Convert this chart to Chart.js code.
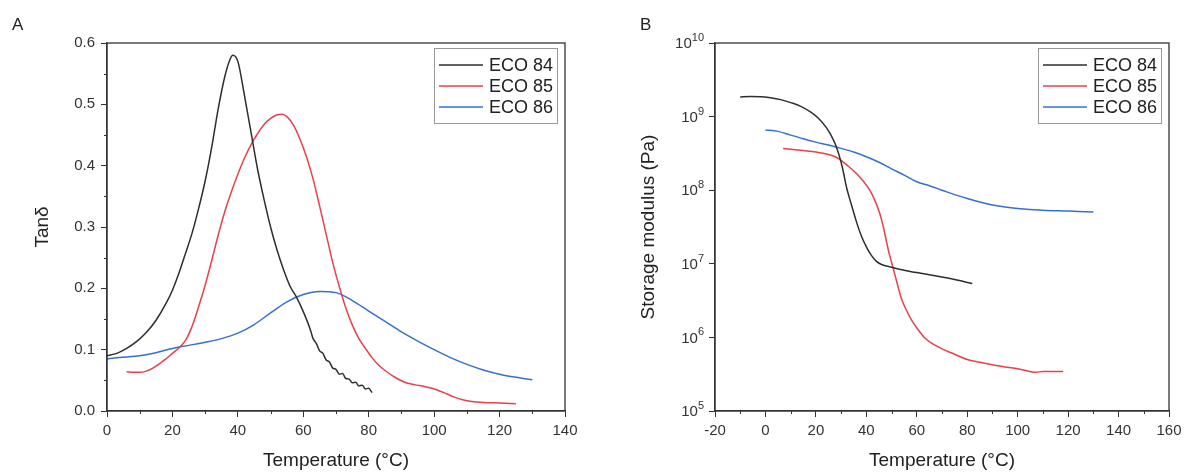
<!DOCTYPE html>
<html>
<head>
<meta charset="utf-8">
<script src="https://cdn.jsdelivr.net/npm/chart.js@4.4.0/dist/chart.umd.min.js"></script>
<style>
  body { margin: 0; background: #fff; }
  #wrap { position: relative; width: 1189px; height: 473px; }
  .panel { position: absolute; top: 0; height: 473px; }
</style>
</head>
<body>
<div id="wrap">
  <div class="panel" style="left:0;width:595px"><canvas id="chartA" width="595" height="473"></canvas></div>
  <div class="panel" style="left:595px;width:594px"><canvas id="chartB" width="594" height="473"></canvas></div>
</div>
<script>
// ---- data: panel A (tan delta) ----
const seriesNames = ['ECO 84', 'ECO 85', 'ECO 86'];
const seriesColors = ['#2e2e2e', '#e8404c', '#3470cf'];

const tempA84 = [0, 3, 6, 9, 12, 15, 18, 20, 22, 24, 26, 28, 30, 32, 34, 36, 37.5, 38.5, 40, 42, 44, 46, 48, 50, 52, 54, 56, 58, 60, 62, 63, 64, 65, 66, 67, 68, 69, 70, 71, 72, 73, 74, 75, 76, 77, 78, 79, 80, 81];
const tanA84 = [0.090, 0.094, 0.102, 0.113, 0.128, 0.148, 0.175, 0.197, 0.225, 0.257, 0.290, 0.330, 0.375, 0.430, 0.493, 0.545, 0.572, 0.580, 0.570, 0.515, 0.455, 0.395, 0.345, 0.300, 0.262, 0.230, 0.203, 0.185, 0.162, 0.135, 0.118, 0.110, 0.098, 0.094, 0.083, 0.080, 0.070, 0.068, 0.060, 0.061, 0.053, 0.052, 0.046, 0.047, 0.041, 0.042, 0.036, 0.037, 0.030];

const tempA85 = [6, 8, 10, 12, 14, 16, 18, 20, 22, 24, 26, 28, 30, 32, 34, 36, 38, 40, 42, 44, 46, 48, 50, 52, 53.5, 55, 57, 59, 61, 63, 65, 67, 69, 71, 73, 75, 77, 79, 81, 83, 85, 88, 91, 94, 97, 100, 103, 106, 109, 112, 115, 120, 125];
const tanA85 = [0.064, 0.063, 0.063, 0.065, 0.070, 0.077, 0.085, 0.094, 0.103, 0.115, 0.138, 0.170, 0.205, 0.245, 0.287, 0.325, 0.357, 0.386, 0.412, 0.434, 0.452, 0.467, 0.477, 0.483, 0.484, 0.480, 0.466, 0.443, 0.414, 0.378, 0.334, 0.288, 0.242, 0.203, 0.168, 0.140, 0.118, 0.102, 0.087, 0.075, 0.066, 0.055, 0.047, 0.043, 0.040, 0.036, 0.030, 0.023, 0.018, 0.015, 0.014, 0.013, 0.012];

const tempA86 = [0, 3, 6, 10, 15, 20, 25, 30, 35, 40, 45, 50, 55, 60, 65, 70, 75, 80, 85, 90, 95, 100, 105, 110, 115, 120, 125, 130];
const tanA86 = [0.085, 0.087, 0.088, 0.090, 0.095, 0.102, 0.107, 0.112, 0.118, 0.127, 0.141, 0.160, 0.178, 0.190, 0.195, 0.193, 0.180, 0.163, 0.146, 0.129, 0.114, 0.100, 0.087, 0.076, 0.067, 0.060, 0.055, 0.051];

// ---- data: panel B (storage modulus, Pa) ----
const tempB84 = [-10, -6, -2, 2, 6, 10, 14, 18, 21, 24, 26, 28, 30, 31, 32, 33, 34, 36, 38, 40, 42, 44, 46, 50, 55, 60, 65, 70, 75, 82];
const modB84 = [1.85e9, 1.87e9, 1.86e9, 1.8e9, 1.7e9, 1.55e9, 1.38e9, 1.15e9, 9.5e8, 7.2e8, 5.6e8, 4.0e8, 2.4e8, 1.7e8, 1.15e8, 8.5e7, 6.5e7, 3.8e7, 2.4e7, 1.7e7, 1.3e7, 1.08e7, 9.8e6, 9.0e6, 8.2e6, 7.6e6, 7.1e6, 6.6e6, 6.1e6, 5.4e6];

const tempB85 = [7, 10, 15, 20, 25, 28, 30, 33, 36, 39, 41, 43, 45, 46, 47, 48, 49, 50, 51, 52, 54, 56, 58, 60, 63, 66, 70, 75, 80, 85, 90, 95, 100, 104, 107, 110, 114, 118];
const modB85 = [3.7e8, 3.6e8, 3.45e8, 3.3e8, 3.05e8, 2.8e8, 2.55e8, 2.1e8, 1.7e8, 1.3e8, 1.05e8, 7.8e7, 5.2e7, 4.0e7, 2.9e7, 2.0e7, 1.4e7, 1.05e7, 7.8e6, 5.8e6, 3.3e6, 2.3e6, 1.7e6, 1.35e6, 1.0e6, 8.3e5, 7.0e5, 5.9e5, 5.0e5, 4.6e5, 4.25e5, 3.95e5, 3.75e5, 3.5e5, 3.35e5, 3.45e5, 3.45e5, 3.45e5];

const tempB86 = [0, 5, 10, 15, 20, 25, 30, 35, 40, 45, 50, 55, 60, 65, 70, 75, 80, 85, 90, 95, 100, 110, 120, 130];
const modB86 = [6.6e8, 6.3e8, 5.6e8, 5.0e8, 4.5e8, 4.1e8, 3.7e8, 3.3e8, 2.85e8, 2.4e8, 1.95e8, 1.6e8, 1.3e8, 1.15e8, 1.0e8, 8.7e7, 7.7e7, 6.9e7, 6.3e7, 5.9e7, 5.65e7, 5.35e7, 5.2e7, 5.05e7];

// ---- axis ticks ----
const ticksA_y = [0, 0.1, 0.2, 0.3, 0.4, 0.5, 0.6];
const ticksB_y = [1e5, 1e6, 1e7, 1e8, 1e9, 1e10];

const FONT = '"Liberation Sans", Arial, sans-serif';

function pts(xs, ys) {
  return xs.map((x, i) => ({x: x, y: ys[i]}));
}

// plot frame, minor ticks, power-of-ten labels, legend box and panel letter
const decor = {
  id: 'decor',
  afterDraw(chart, args, o) {
    const ctx = chart.ctx, a = chart.chartArea;
    ctx.save();
    ctx.strokeStyle = '#333';
    ctx.lineWidth = 1.3;
    ctx.strokeRect(a.left, a.top, a.right - a.left, a.bottom - a.top);

    ctx.lineWidth = 1;
    ctx.beginPath();
    (o.minorX || []).forEach(v => {
      const px = Math.round(chart.scales.x.getPixelForValue(v)) + 0.5;
      ctx.moveTo(px, a.bottom); ctx.lineTo(px, a.bottom + 3);
    });
    (o.minorY || []).forEach(v => {
      const py = Math.round(chart.scales.y.getPixelForValue(v)) + 0.5;
      ctx.moveTo(a.left, py); ctx.lineTo(a.left - 3, py);
    });
    ctx.stroke();

    // 10^n labels with raised exponent
    if (o.powers) {
      ctx.fillStyle = '#333';
      ctx.textAlign = 'right';
      ctx.textBaseline = 'middle';
      o.powers.forEach(v => {
        const py = chart.scales.y.getPixelForValue(v);
        const e = String(Math.round(Math.log10(v)));
        ctx.font = '11px ' + FONT;
        const ew = ctx.measureText(e).width;
        const xr = a.left - 11;
        ctx.fillText(e, xr, py - 5);
        ctx.font = '15px ' + FONT;
        ctx.fillText('10', xr - ew, py + 1);
      });
    }

    // legend
    const bw = 123, bh = 75;
    const bx = a.right - 8 - bw, by = a.top + 5;
    ctx.strokeStyle = '#999';
    ctx.lineWidth = 1;
    ctx.strokeRect(bx + 0.5, by + 0.5, bw, bh);
    ctx.font = '18px ' + FONT;
    ctx.textBaseline = 'middle';
    ctx.textAlign = 'left';
    chart.data.datasets.forEach((ds, i) => {
      const cy = by + 17 + i * 21;
      ctx.strokeStyle = ds.borderColor;
      ctx.lineWidth = 1.5;
      ctx.beginPath();
      ctx.moveTo(bx + 5, cy); ctx.lineTo(bx + 49, cy);
      ctx.stroke();
      ctx.fillStyle = '#222';
      ctx.fillText(ds.label, bx + 55, cy + 1);
    });

    // panel letter
    ctx.font = '17px ' + FONT;
    ctx.fillStyle = '#222';
    ctx.fillText(o.letter, o.letterX, 25);
    ctx.restore();
  }
};

function makeChart(id, cfg) {
  const datasets = cfg.series.map((s, i) => ({
    label: seriesNames[i],
    data: pts(s[0], s[1]),
    borderColor: seriesColors[i],
    borderWidth: 1.5,
    pointRadius: 0,
    fill: false,
    cubicInterpolationMode: 'monotone'
  }));
  return new Chart(document.getElementById(id), {
    type: 'line',
    data: { datasets: datasets },
    plugins: [decor],
    options: {
      responsive: false,
      animation: false,
      layout: { padding: { top: 43, right: cfg.rightPad, left: 0, bottom: 0 } },
      plugins: {
        legend: { display: false },
        tooltip: { enabled: false },
        decor: { minorX: cfg.minorX, minorY: cfg.minorY, powers: cfg.powers, letter: cfg.letter, letterX: cfg.letterX }
      },
      scales: {
        x: {
          type: 'linear',
          min: cfg.xMin, max: cfg.xMax,
          afterFit: s => { s.height = 62; },
          grid: { drawOnChartArea: false, tickLength: 6, color: '#333', lineWidth: 1 },
          border: { display: true, color: '#333', width: 1.3 },
          ticks: { stepSize: 20, padding: 5, color: '#333', font: { family: FONT, size: 15 }, maxRotation: 0 },
          title: { display: true, text: 'Temperature (°C)', color: '#222', font: { family: FONT, size: 19 }, padding: { top: 0, bottom: 1 } }
        },
        y: Object.assign({
          afterFit: s => { s.width = cfg.yWidth; },
          grid: { drawOnChartArea: false, tickLength: 6, color: '#333', lineWidth: 1 },
          border: { display: true, color: '#333', width: 1.3 },
          title: { display: true, text: cfg.yTitle, color: '#222', font: { family: FONT, size: 19 }, padding: { top: cfg.yTitlePad, bottom: 0 } }
        }, cfg.yScale)
      }
    }
  });
}

const minorXA = [], minorXB = [], minorYA = [];
for (let v = 10; v < 140; v += 20) minorXA.push(v);
for (let v = -10; v < 160; v += 20) minorXB.push(v);
for (let v = 0.05; v < 0.6; v += 0.1) minorYA.push(v);

makeChart('chartA', {
  series: [[tempA84, tanA84], [tempA85, tanA85], [tempA86, tanA86]],
  xMin: 0, xMax: 140, rightPad: 30, yWidth: 107, yTitle: 'Tanδ', yTitlePad: 31,
  minorX: minorXA, minorY: minorYA, powers: null, letter: 'A', letterX: 12,
  yScale: {
    type: 'linear', min: 0, max: 0.6,
    afterBuildTicks: s => { s.ticks = ticksA_y.map(v => ({value: v})); },
    ticks: { padding: 6, color: '#333', font: { family: FONT, size: 15 }, callback: v => v.toFixed(1) }
  }
});

makeChart('chartB', {
  series: [[tempB84, modB84], [tempB85, modB85], [tempB86, modB86]],
  xMin: -20, xMax: 160, rightPad: 20, yWidth: 120, yTitle: 'Storage modulus (Pa)', yTitlePad: 42,
  minorX: minorXB, minorY: [], powers: ticksB_y, letter: 'B', letterX: 45,
  yScale: {
    type: 'logarithmic', min: 1e5, max: 1e10,
    afterBuildTicks: s => { s.ticks = ticksB_y.map(v => ({value: v})); },
    ticks: { padding: 6, color: '#333', font: { family: FONT, size: 15 }, callback: () => '' }
  }
});
</script>
</body>
</html>
